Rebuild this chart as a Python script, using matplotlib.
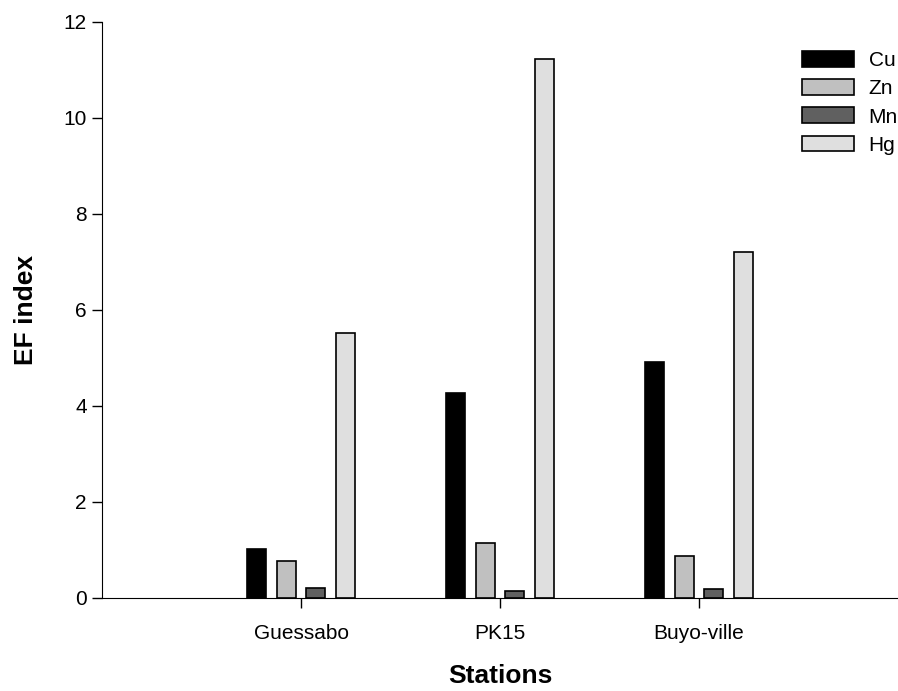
import numpy as np
import matplotlib.pyplot as plt

plt.rcParams['font.family'] = ['Liberation Sans', 'DejaVu Sans']

stations = ['Guessabo', 'PK15', 'Buyo-ville']
metals = ['Cu', 'Zn', 'Mn', 'Hg']
cu = [1.03, 4.27, 4.92]
zn = [0.77, 1.15, 0.88]
mn = [0.20, 0.15, 0.19]
hg = [5.53, 11.23, 7.21]
colors = ['#000000', '#c0c0c0', '#606060', '#dfdfdf']

fig = plt.figure(figsize=(8.98, 6.91), dpi=100)
ax = fig.add_axes([0.1136, 0.1346, 0.8864, 0.8336])

x = np.arange(1, len(stations) + 1)
offsets = [-0.225, -0.075, 0.075, 0.225]
for vals, name, c, off in zip([cu, zn, mn, hg], metals, colors, offsets):
    ax.bar(x + off, vals, width=0.095, color=c, edgecolor='black',
           linewidth=1.2, label=name, zorder=2)

ax.set_xlim(0, 4)
ax.set_ylim(0, 12)
ax.set_xticks(x)
ax.set_xticklabels(stations)
ax.set_yticks(range(0, 13, 2))
ax.tick_params(labelsize=15, length=7, width=1)
ax.tick_params(axis='x', pad=12)
ax.tick_params(axis='y', pad=4)
ax.spines['top'].set_visible(False)
ax.spines['right'].set_visible(False)
ax.set_xlabel('Stations', fontsize=19, fontweight='bold', labelpad=15)
ax.set_ylabel('EF index', fontsize=19, fontweight='bold', labelpad=18)

ax.legend(loc='upper left', bbox_to_anchor=(802 / 898, 1 - 51 / 691),
          bbox_transform=fig.transFigure, frameon=False, fontsize=15,
          handlelength=2.5, handleheight=0.8, handletextpad=0.7,
          labelspacing=0.43, borderaxespad=0, borderpad=0)

fig.savefig('out.png', dpi=100)
